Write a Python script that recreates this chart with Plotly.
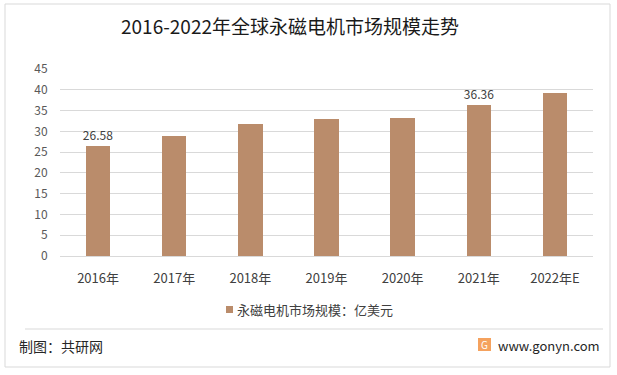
import plotly.graph_objects as go

categories = ["2016年", "2017年", "2018年", "2019年", "2020年", "2021年", "2022年E"]
values = [26.58, 28.9, 31.8, 33.0, 33.2, 36.36, 39.2]
labels = ["26.58", "", "", "", "", "36.36", ""]
series_name = "永磁电机市场规模：亿美元"
title_text = "2016-2022年全球永磁电机市场规模走势"
source_text = "制图：共研网"
site_text = "www.gonyn.com"
y_ticks = [0, 5, 10, 15, 20, 25, 30, 35, 40, 45]

W, H = 617, 375
FONT = "Noto Sans CJK SC, Microsoft YaHei, sans-serif"
BAR = "#BA8C6B"

def px(x):
    return x / W

def py(y):
    return 1 - y / H

fig = go.Figure()
fig.add_trace(go.Bar(
    x=categories, y=values, name=series_name,
    marker=dict(color=BAR, line=dict(width=0)),
    width=0.32,
    text=labels, textposition="outside", cliponaxis=False, constraintext="none",
    textfont=dict(size=12, color="#404040", family=FONT),
    showlegend=False,
))

fig.update_layout(
    template="none",
    width=W, height=H,
    margin=dict(l=0, r=0, t=0, b=0, autoexpand=False),
    paper_bgcolor="white", plot_bgcolor="white",
    font=dict(family=FONT, color="#404040"),
    bargap=0,
    title=dict(text=title_text, x=px(290), xanchor="center", y=py(27), yanchor="middle",
               automargin=False,
               font=dict(size=19, color="#1a1a1a", family=FONT)),
    xaxis=dict(domain=[px(60), px(593)], showgrid=False, showline=False, zeroline=False,
               automargin=False,
               ticks="outside", ticklen=10, tickcolor="rgba(0,0,0,0)",
               tickfont=dict(size=13, color="#404040", family=FONT)),
    yaxis=dict(domain=[py(256), py(69)], range=[0, 45], tickvals=y_ticks,
               automargin=False,
               showgrid=True, gridcolor="#d9d9d9", gridwidth=1,
               zeroline=True, zerolinecolor="#d9d9d9", zerolinewidth=1,
               showline=False, ticks="outside", ticklen=9, tickcolor="rgba(0,0,0,0)",
               tickfont=dict(size=12, color="#595959", family=FONT)),
    shapes=[
        dict(type="rect", xref="paper", yref="paper", x0=px(5), x1=px(610), y0=py(367), y1=py(4),
             line=dict(color="#d9d9d9", width=1), fillcolor="rgba(0,0,0,0)", layer="below"),
        dict(type="line", xref="paper", yref="paper", x0=px(25), x1=px(603), y0=py(329), y1=py(329),
             line=dict(color="#d9d9d9", width=1)),
        dict(type="rect", xref="paper", yref="paper", x0=px(226), x1=px(233), y0=py(313), y1=py(306),
             line=dict(width=0), fillcolor=BAR),
        dict(type="rect", xref="paper", yref="paper", x0=px(478), x1=px(491), y0=py(351), y1=py(338),
             line=dict(width=0), fillcolor="#F5A25E"),
    ],
    annotations=[
        dict(text=series_name, xref="paper", yref="paper", x=px(235), y=py(309), xanchor="left",
             yanchor="middle", showarrow=False, font=dict(size=13, color="#404040", family=FONT)),
        dict(text=source_text, xref="paper", yref="paper", x=px(17), y=py(346), xanchor="left",
             yanchor="middle", showarrow=False, font=dict(size=14, color="#262626", family=FONT)),
        dict(text=site_text, xref="paper", yref="paper", x=px(496), y=py(345), xanchor="left",
             yanchor="middle", showarrow=False, font=dict(size=13, color="#262626", family=FONT)),
        dict(text="G", xref="paper", yref="paper", x=px(484.5), y=py(344.5), xanchor="center",
             yanchor="middle", showarrow=False, font=dict(size=10, color="white", family=FONT)),
    ],
)

fig.write_html("out.html", config={"displayModeBar": False},
               post_script="document.body.style.margin='0';document.body.style.padding='0';")
